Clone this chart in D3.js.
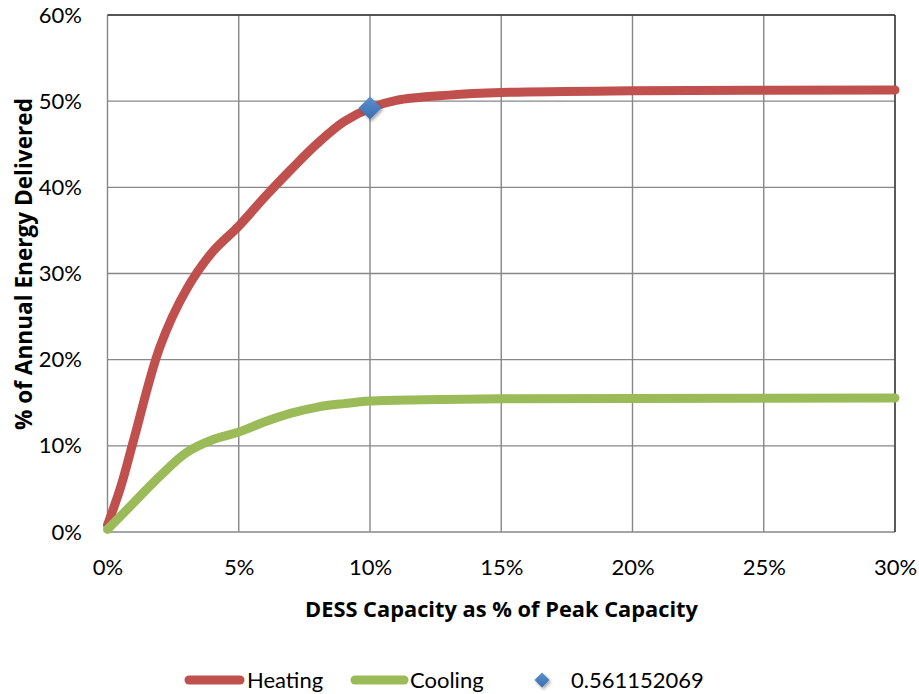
<!DOCTYPE html>
<html>
<head>
<meta charset="utf-8">
<script src="https://cdn.jsdelivr.net/npm/d3@7"></script>
<style>
  html, body { margin: 0; padding: 0; background: #fff; }
  svg { display: block; font-family: Lato, "Open Sans", sans-serif; }
</style>
</head>
<body>
<svg id="chart" width="919" height="694"></svg>
<script>
// ---- data ----
const capacity = [0, 0.005, 0.01, 0.02, 0.03, 0.04, 0.05, 0.06, 0.07, 0.08, 0.09, 0.10, 0.11, 0.13, 0.15, 0.20, 0.30];
const heating  = [0.008, 0.052, 0.107, 0.215, 0.281, 0.325, 0.355, 0.389, 0.421, 0.451, 0.476, 0.492, 0.501, 0.507, 0.510, 0.512, 0.513];
const coolCap  = [0, 0.01, 0.02, 0.03, 0.04, 0.05, 0.06, 0.07, 0.08, 0.09, 0.10, 0.12, 0.15, 0.20, 0.30];
const cooling  = [0.003, 0.034, 0.065, 0.092, 0.107, 0.116, 0.128, 0.138, 0.145, 0.149, 0.152, 0.1535, 0.1545, 0.155, 0.1555];
const markerPoint = [{x: 0.10, y: 0.492}];
const markerLabel = "0.561152069";
const xTicks = [0, 0.05, 0.10, 0.15, 0.20, 0.25, 0.30];
const yTicks = [0, 0.1, 0.2, 0.3, 0.4, 0.5, 0.6];
const seriesNames = ["Heating", "Cooling"];
const colors = {Heating: "#C0504D", Cooling: "#9BBB59", marker: "#4F81BD"};

// ---- layout ----
const svg = d3.select("#chart");
const L = 107.5, R = 895, T = 15, B = 532;
const x = d3.scaleLinear().domain([0, 0.30]).range([L, R]);
const y = d3.scaleLinear().domain([0, 0.60]).range([B, T]);
const pct = d3.format(".0%");

const defs = svg.append("defs");
const grad = defs.append("linearGradient").attr("id", "dg").attr("x1", "0").attr("y1", "0").attr("x2", "0").attr("y2", "1");
grad.append("stop").attr("offset", "0%").attr("stop-color", "#5B8FCE");
grad.append("stop").attr("offset", "100%").attr("stop-color", "#3A6DAE");
const flt = defs.append("filter").attr("id", "sh").attr("x", "-50%").attr("y", "-50%").attr("width", "200%").attr("height", "200%");
flt.append("feDropShadow").attr("dx", 1.5).attr("dy", 2).attr("stdDeviation", 1.5).attr("flood-color", "#000").attr("flood-opacity", 0.35);

// gridlines
const grid = svg.append("g");
grid.selectAll("line.v").data(xTicks).join("line")
  .attr("x1", d => x(d)).attr("x2", d => x(d)).attr("y1", T).attr("y2", B)
  .attr("stroke", "#878787").attr("stroke-width", 1.4);
grid.selectAll("line.h").data(yTicks).join("line")
  .attr("x1", L).attr("x2", R).attr("y1", d => y(d)).attr("y2", d => y(d))
  .attr("stroke", "#878787").attr("stroke-width", 1.4);
svg.append("line").attr("x1", L).attr("x2", R).attr("y1", T).attr("y2", T).attr("stroke", "#3a3a3a").attr("stroke-width", 1.4);
svg.append("line").attr("x1", R).attr("x2", R).attr("y1", T).attr("y2", B).attr("stroke", "#3a3a3a").attr("stroke-width", 1.4);

// axes
const xAxis = svg.append("g").attr("transform", `translate(0,${B})`)
  .call(d3.axisBottom(x).tickValues(xTicks).tickFormat(pct).tickSize(0).tickPadding(27));
const yAxis = svg.append("g").attr("transform", `translate(${L},0)`)
  .call(d3.axisLeft(y).tickValues(yTicks).tickFormat(pct).tickSize(0).tickPadding(25.5));
[xAxis, yAxis].forEach(a => {
  a.select(".domain").remove();
  a.selectAll("text").attr("font-size", 22).attr("fill", "#000").attr("font-family", "Lato, 'Open Sans', sans-serif");
});

// lines
const line = d3.line().curve(d3.curveCatmullRom.alpha(0.5));
svg.append("path")
  .attr("d", line(capacity.map((c, i) => [x(c), y(heating[i])])))
  .attr("fill", "none").attr("stroke", colors.Heating).attr("stroke-width", 9).attr("stroke-linejoin", "round").attr("stroke-linecap", "round");
svg.append("path")
  .attr("d", line(coolCap.map((c, i) => [x(c), y(cooling[i])])))
  .attr("fill", "none").attr("stroke", colors.Cooling).attr("stroke-width", 9).attr("stroke-linejoin", "round").attr("stroke-linecap", "round");

// marker
const diamond = d3.symbol().type(d3.symbolDiamond2);
svg.selectAll("path.mk").data(markerPoint).join("path")
  .attr("d", diamond.size(2 * 13 * 13)())
  .attr("transform", d => `translate(${x(d.x)},${y(d.y)})`)
  .attr("fill", "url(#dg)").attr("filter", "url(#sh)");

// axis titles (fit to measured widths of the reference)
function fitText(sel, target) {
  const w = sel.node().getComputedTextLength();
  const fs = parseFloat(sel.attr("font-size"));
  sel.attr("font-size", (fs * target / w).toFixed(2));
}
const xt = svg.append("text").attr("x", 501.5).attr("y", 616.5).attr("text-anchor", "middle")
  .attr("font-size", 20).attr("font-weight", "bold").attr("fill", "#000")
  .attr("font-family", "'Open Sans', Lato, sans-serif")
  .text("DESS Capacity as % of Peak Capacity");
fitText(xt, 393);
const yt = svg.append("text").attr("transform", "translate(32,264) rotate(-90)").attr("text-anchor", "middle")
  .attr("font-size", 20).attr("font-weight", "bold").attr("fill", "#000")
  .attr("font-family", "'Open Sans', Lato, sans-serif")
  .text("% of Annual Energy Delivered");
fitText(yt, 332);

// legend
const lg = svg.append("g");
const legY = 680;
lg.append("line").attr("x1", 189).attr("x2", 240).attr("y1", legY).attr("y2", legY)
  .attr("stroke", colors.Heating).attr("stroke-width", 9).attr("stroke-linecap", "round");
lg.append("text").attr("x", 247).attr("y", legY + 8).attr("font-size", 22).attr("fill", "#000").text(seriesNames[0]);
lg.append("line").attr("x1", 355).attr("x2", 404).attr("y1", legY).attr("y2", legY)
  .attr("stroke", colors.Cooling).attr("stroke-width", 9).attr("stroke-linecap", "round");
lg.append("text").attr("x", 410).attr("y", legY + 8).attr("font-size", 22).attr("fill", "#000").text(seriesNames[1]);
lg.append("path").attr("d", diamond.size(2 * 8.5 * 8.5)()).attr("transform", `translate(542,${legY})`)
  .attr("fill", "url(#dg)").attr("filter", "url(#sh)");
lg.append("text").attr("x", 571).attr("y", legY + 8).attr("font-size", 22).attr("fill", "#000").text(markerLabel);
</script>
</body>
</html>
